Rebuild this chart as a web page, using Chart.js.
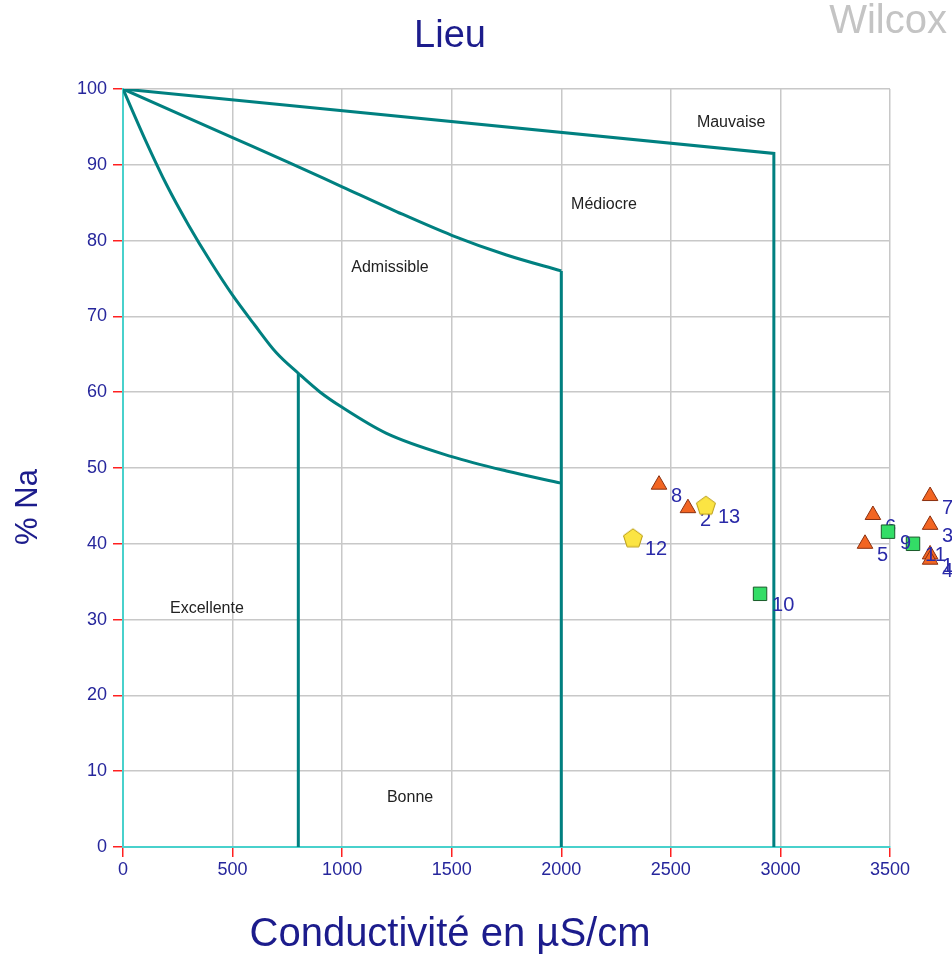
<!DOCTYPE html>
<html lang="fr">
<head>
    <meta charset="UTF-8">
    <title>Wilcox - Lieu</title>
    <style>
        body {
            margin: 0;
            background-color: #fff;
        }
        canvas {
            display: block;
        }
    </style>
    <script src="https://cdn.jsdelivr.net/npm/chart.js"></script>
</head>
<body>
<canvas id="wilcoxChart" width="952" height="961"></canvas>

<script>
    // Points de prélèvement (conductivité en µS/cm, % Na)
    const triangleNums = ['1', '2', '3', '4', '5', '6', '7', '8'];
    const triangleX = [3683, 2578, 3683, 3683, 3386, 3422, 3683, 2446];
    const triangleY = [38.6, 44.7, 42.5, 37.9, 40.0, 43.8, 46.3, 47.8];

    const pentagoneNums = ['12', '13'];
    const pentagoneX = [2327, 2660];
    const pentagoneY = [40.8, 45.1];

    const carreNums = ['9', '10', '11'];
    const carreX = [3491, 2907, 3605];
    const carreY = [41.6, 33.4, 40.0];

    // Limites des classes de Wilcox
    const limiteMauvaiseX = [0, 2970, 2970];
    const limiteMauvaiseY = [100, 91.5, 0];
    const limiteMediocreX = [0, 250, 500, 750, 1000, 1250, 1500, 1750, 2000];
    const limiteMediocreY = [100, 96.8, 93.6, 90.4, 87.1, 83.8, 80.7, 78.1, 76];
    const limiteAdmissibleX = [0, 100, 200, 300, 400, 500, 600, 700, 800, 900, 1000, 1200, 1500, 1750, 2000];
    const limiteAdmissibleY = [100, 93.4, 87.3, 82, 77.2, 72.8, 68.9, 65.2, 62.5, 60, 58, 54.6, 51.5, 49.6, 48];
    const verticale2000X = [2000, 2000];
    const verticale2000Y = [76, 0];
    const verticale800X = [800, 800];
    const verticale800Y = [62.5, 0];

    // Noms des classes
    const zoneNoms = ['Mauvaise', 'Médiocre', 'Admissible', 'Excellente', 'Bonne'];
    const zoneX = [2775, 2195, 1218, 383, 1310];
    const zoneY = [95.6, 84.7, 76.5, 31.5, 6.5];

    const police = "'Liberation Sans', Arial, sans-serif";
    const bleu = '#1c1c8c';
    const sarcelle = '#008080';

    function points(xs, ys) {
        return xs.map((x, i) => ({ x: x, y: ys[i] }));
    }

    // Symbole pentagone (pas disponible dans Chart.js)
    function pentagone(r, fond, bord) {
        const c = document.createElement('canvas');
        const t = Math.ceil(r * 2 + 4);
        c.width = t;
        c.height = t;
        const ctx = c.getContext('2d');
        ctx.beginPath();
        for (let k = 0; k < 5; k++) {
            const a = -Math.PI / 2 + k * 2 * Math.PI / 5;
            const px = t / 2 + r * Math.cos(a);
            const py = t / 2 + 1 + r * Math.sin(a);
            if (k === 0) ctx.moveTo(px, py); else ctx.lineTo(px, py);
        }
        ctx.closePath();
        ctx.fillStyle = fond;
        ctx.fill();
        ctx.lineWidth = 1;
        ctx.strokeStyle = bord;
        ctx.stroke();
        return c;
    }

    function ligne(xs, ys, lisse) {
        return {
            type: 'line',
            data: points(xs, ys),
            borderColor: sarcelle,
            borderWidth: 3,
            pointRadius: 0,
            fill: false,
            tension: 0,
            cubicInterpolationMode: lisse ? 'monotone' : 'default',
            order: 10
        };
    }

    // Numéros des points (+ points hors de la zone du graphique)
    const etiquettesPlugin = {
        id: 'etiquettes',
        afterDatasetDraw(chart, args) {
            const ds = chart.data.datasets[args.index];
            if (!ds.nums) return;
            const ctx = chart.ctx;
            const ca = chart.chartArea;
            const tout = { left: 0, top: 0, right: chart.width, bottom: chart.height };
            ctx.save();
            args.meta.data.forEach(el => {
                const m = el.size(el.options) / 2;
                const dedans = el.x > ca.left - m && el.x < ca.right + m &&
                    el.y > ca.top - m && el.y < ca.bottom + m;
                if (!dedans) el.draw(ctx, tout);
            });
            ctx.font = '20px ' + police;
            ctx.fillStyle = '#2a2aa8';
            ctx.textAlign = 'left';
            ctx.textBaseline = 'middle';
            args.meta.data.forEach((el, i) => {
                ctx.fillText(ds.nums[i], el.x + 12, el.y + 12);
            });
            ctx.restore();
        }
    };

    // Titres, noms des zones et "Wilcox"
    const textesPlugin = {
        id: 'textes',
        afterDraw(chart) {
            const ctx = chart.ctx;
            const sx = chart.scales.x;
            const sy = chart.scales.y;
            ctx.save();
            ctx.font = '16px ' + police;
            ctx.fillStyle = '#222';
            ctx.textAlign = 'center';
            ctx.textBaseline = 'middle';
            zoneNoms.forEach((nom, i) => {
                ctx.fillText(nom, sx.getPixelForValue(zoneX[i]), sy.getPixelForValue(zoneY[i]));
            });

            ctx.fillStyle = bleu;
            ctx.font = '38px ' + police;
            ctx.fillText('Lieu', 450, 37);
            ctx.font = '40px ' + police;
            ctx.fillText('Conductivité en µS/cm', 450, 935);
            ctx.save();
            ctx.translate(28, 507);
            ctx.rotate(-Math.PI / 2);
            ctx.font = '31px ' + police;
            ctx.fillText('% Na', 0, 0);
            ctx.restore();

            ctx.font = '40px ' + police;
            ctx.fillStyle = '#c4c4c4';
            ctx.textAlign = 'right';
            ctx.fillText('Wilcox', 947, 22);
            ctx.restore();
        }
    };

    const config = {
        type: 'scatter',
        data: {
            datasets: [
                {
                    label: 'Triangles',
                    nums: triangleNums,
                    data: points(triangleX, triangleY),
                    pointStyle: 'triangle',
                    pointRadius: 9,
                    backgroundColor: '#f26522',
                    borderColor: '#8a3010',
                    borderWidth: 1,
                    clip: false,
                    order: 3
                },
                {
                    label: 'Pentagones',
                    nums: pentagoneNums,
                    data: points(pentagoneX, pentagoneY),
                    pointStyle: pentagone(10, '#fbe443', '#b89a10'),
                    clip: false,
                    order: 2
                },
                {
                    label: 'Carrés',
                    nums: carreNums,
                    data: points(carreX, carreY),
                    pointStyle: 'rect',
                    pointRadius: 9.5,
                    backgroundColor: '#33dd66',
                    borderColor: '#1a5a2a',
                    borderWidth: 1,
                    clip: false,
                    order: 1
                },
                ligne(limiteMauvaiseX, limiteMauvaiseY, false),
                ligne(limiteMediocreX, limiteMediocreY, true),
                ligne(limiteAdmissibleX, limiteAdmissibleY, true),
                ligne(verticale2000X, verticale2000Y, false),
                ligne(verticale800X, verticale800Y, false)
            ]
        },
        options: {
            responsive: false,
            animation: false,
            layout: {
                padding: { left: 0, right: 62, top: 89, bottom: 0 }
            },
            plugins: {
                legend: { display: false },
                tooltip: { enabled: false }
            },
            scales: {
                x: {
                    type: 'linear',
                    min: 0,
                    max: 3500,
                    afterFit(scale) { scale.height = 114; },
                    ticks: {
                        stepSize: 500,
                        color: '#26269c',
                        font: { family: police, size: 18 },
                        padding: 2,
                        callback: v => String(v)
                    },
                    grid: {
                        color: '#c8c8c8',
                        lineWidth: 1.5,
                        tickColor: '#ff2020',
                        tickLength: 10
                    },
                    border: { color: '#48d1cc', width: 2 }
                },
                y: {
                    min: 0,
                    max: 100,
                    afterFit(scale) { scale.width = 123; },
                    ticks: {
                        stepSize: 10,
                        color: '#26269c',
                        font: { family: police, size: 18 },
                        padding: 6,
                        callback: v => String(v)
                    },
                    grid: {
                        color: '#c8c8c8',
                        lineWidth: 1.5,
                        tickColor: '#ff2020',
                        tickLength: 10
                    },
                    border: { color: '#48d1cc', width: 2 }
                }
            }
        },
        plugins: [etiquettesPlugin, textesPlugin]
    };

    new Chart(document.getElementById('wilcoxChart').getContext('2d'), config);
</script>
</body>
</html>
